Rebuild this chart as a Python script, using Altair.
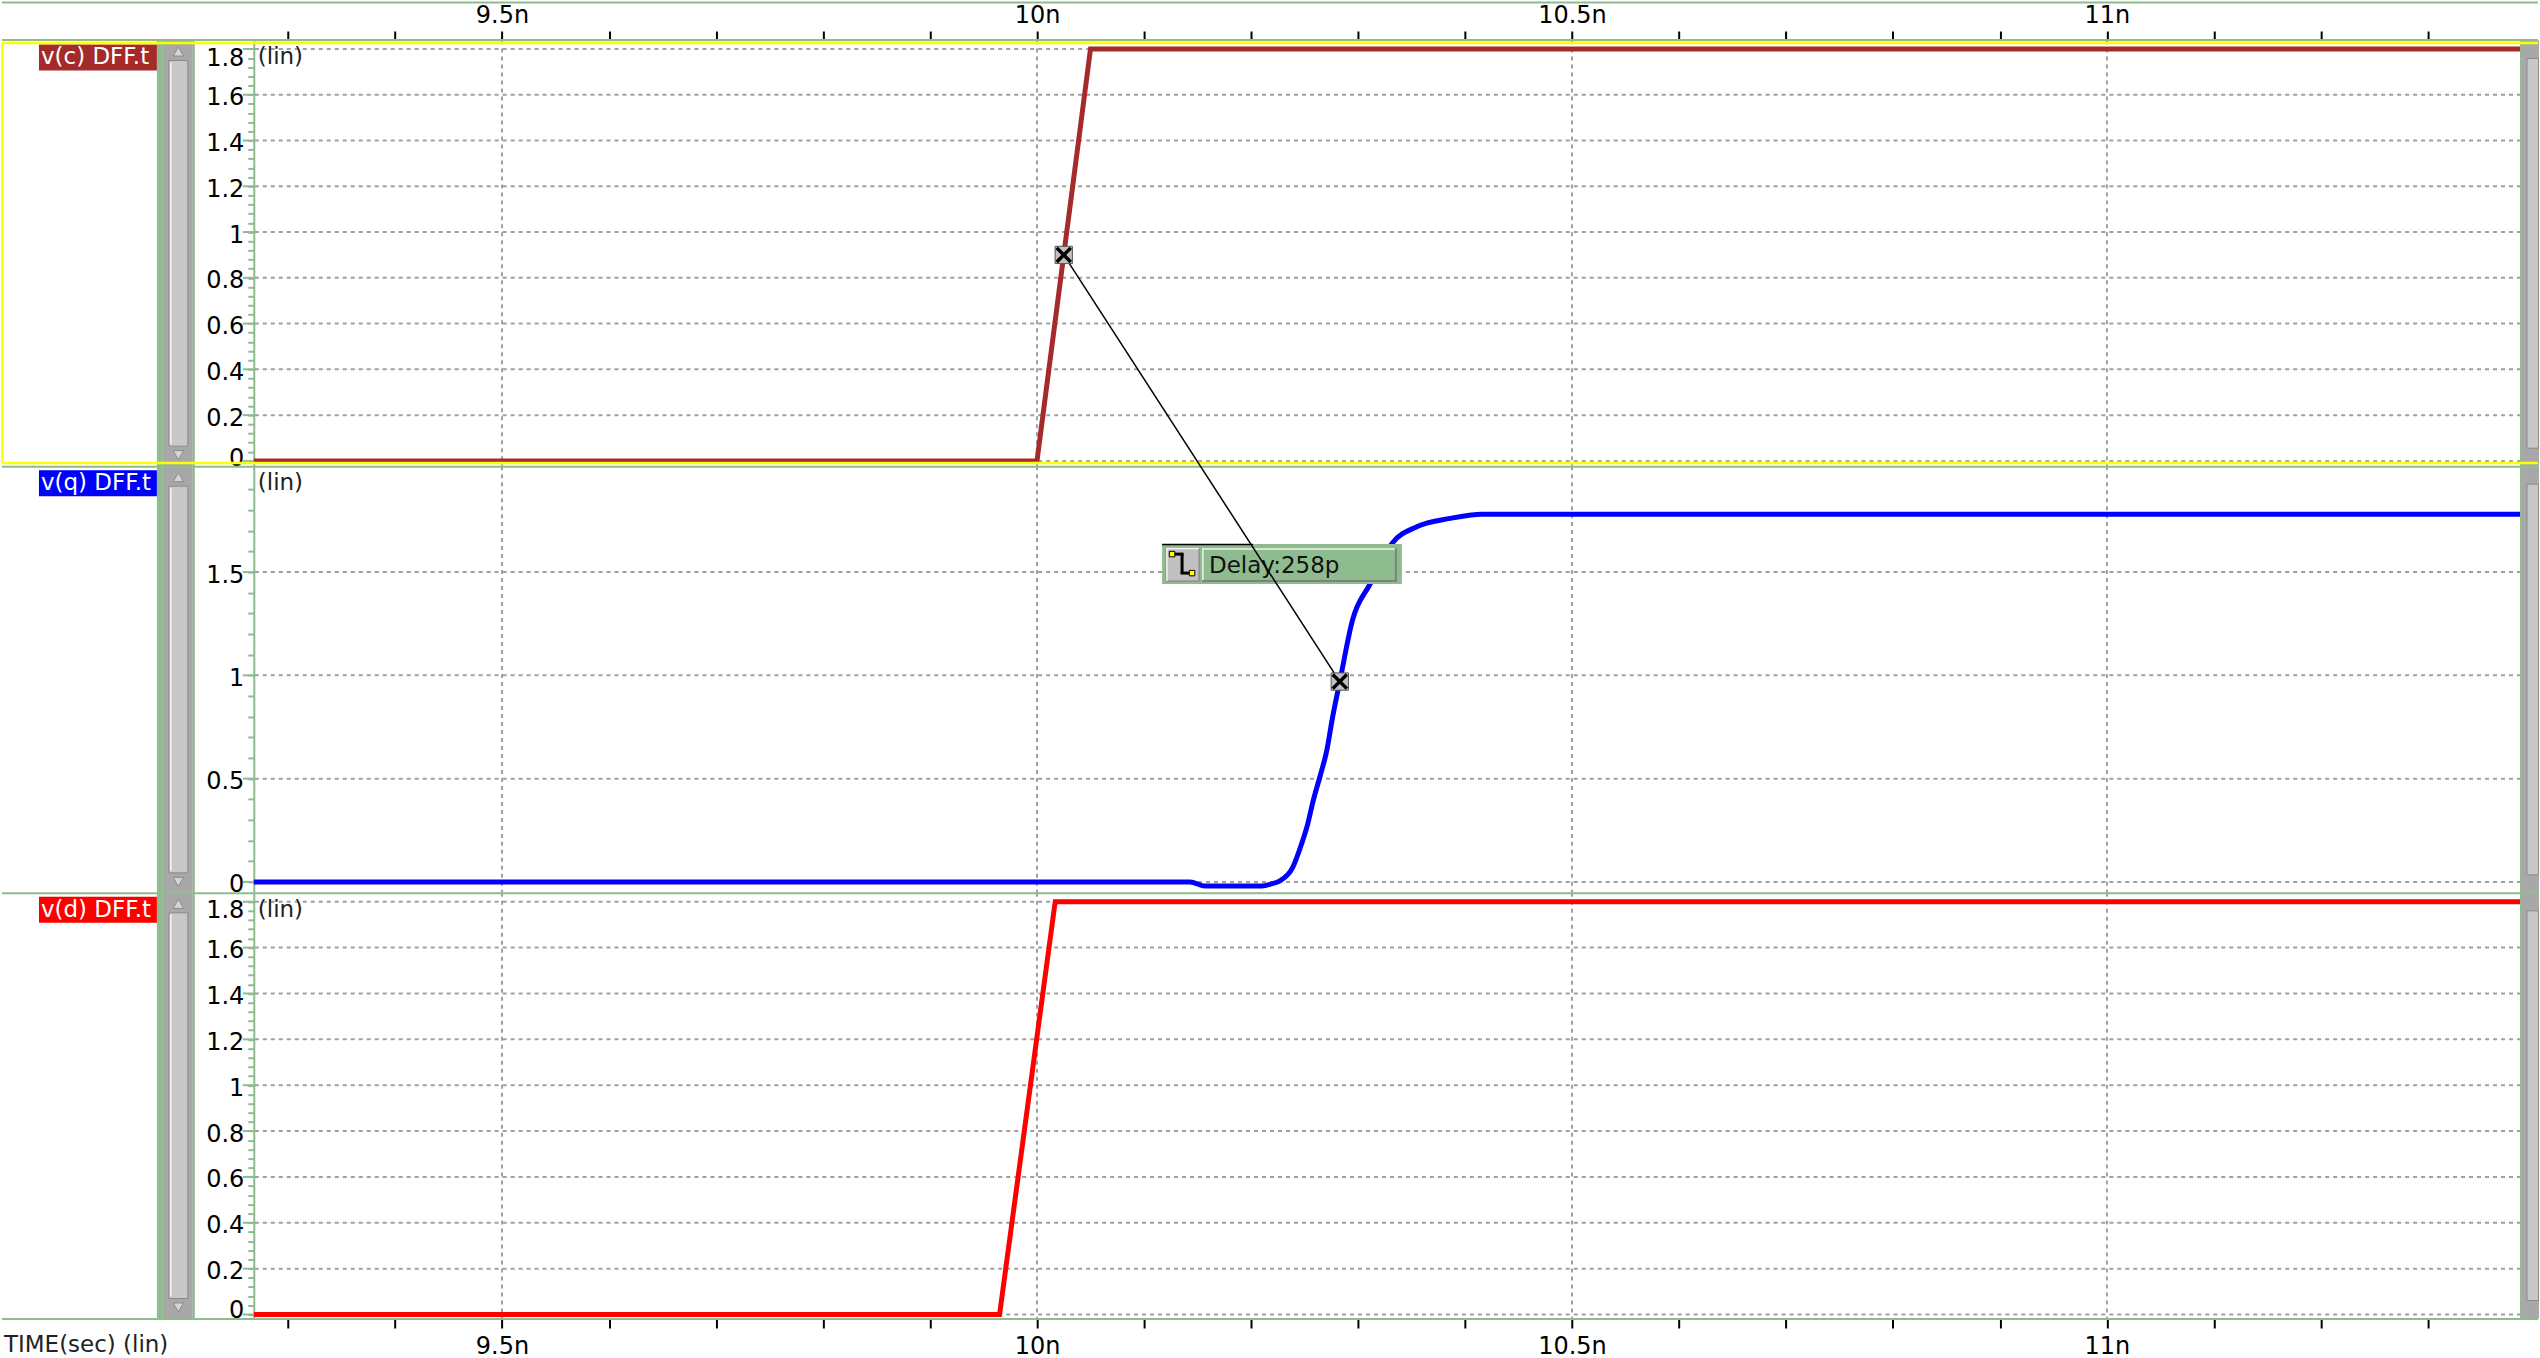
import altair as alt
import pandas as pd

FONT = "DejaVu Sans"
GREEN = "#8FBC8F"
GRID = "#A0A0A0"
DARK = "#A8A8A8"
LIGHT = "#C8C8C8"
YELLOW = "#FFFF00"

# ---------------- data ----------------
T_DOMAIN = [9.268, 11.387]            # ns
T_TICKS = [9.3, 9.4, 9.5, 9.6, 9.7, 9.8, 9.9, 10.0, 10.1, 10.2, 10.3,
           10.4, 10.5, 10.6, 10.7, 10.8, 10.9, 11.0, 11.1, 11.2, 11.3]
T_GRID = [9.5, 10.0, 10.5, 11.0]

VC_T = [9.2, 10.0, 10.05, 11.4]
VC_V = [0.0, 0.0, 1.8, 1.8]

VQ_T = [9.2, 10.143, 10.157, 10.210, 10.219, 10.227, 10.239, 10.247, 10.253,
        10.258, 10.265, 10.271, 10.276, 10.283, 10.295, 10.311, 10.332,
        10.355, 10.386, 10.416, 11.4]
VQ_V = [0.0, 0.0, -0.02, -0.02, -0.01, 0.005, 0.07, 0.18, 0.28,
        0.39, 0.52, 0.64, 0.79, 0.97, 1.27, 1.44, 1.64,
        1.72, 1.76, 1.78, 1.78]

VD_T = [9.2, 9.965, 10.017, 11.4]
VD_V = [0.0, 0.0, 1.8, 1.8]

Y_LAB_CD = [0.0, 0.2, 0.4, 0.6, 0.8, 1.0, 1.2, 1.4, 1.6, 1.8]
Y_LAB_Q = [0.0, 0.5, 1.0, 1.5]
Y_MINOR_CD = [round(0.04 * k, 2) for k in range(46)]
Y_MINOR_Q = [round(0.1 * k, 1) for k in range(20)]

DELAY_T = [10.025, 10.283]   # measurement points (v(c) 50%, v(q))
DELAY_V = [0.9, 0.97]
DELAY_TEXT = "Delay:258p"

SIGNALS = ["v(c) DFF.t", "v(q) DFF.t", "v(d) DFF.t"]
COLORS = ["#A52A2A", "#0000FF", "#FF0000"]

# ---------------- layout ----------------
PLOT_L = 253
PLOT_W = 2269
CANVAS_W = 2540
CANVAS_H = 1358

PANELS = [
    dict(top=39, h=426, dom=[-0.023, 1.837], labels=Y_LAB_CD, minor=Y_MINOR_CD, step=5,
         t=VC_T, v=VC_V, interp="linear", off_top=10, off_bot=-2),
    dict(top=465, h=427, dom=[-0.053, 2.013], labels=Y_LAB_Q, minor=Y_MINOR_Q, step=2,
         t=VQ_T, v=VQ_V, interp="monotone", off_top=3, off_bot=3),
    dict(top=892, h=426, dom=[-0.0174, 1.8388], labels=Y_LAB_CD, minor=Y_MINOR_CD, step=5,
         t=VD_T, v=VD_V, interp="linear", off_top=9, off_bot=-4),
]

ONE = pd.DataFrame({"k": [0]})


def canvas_y(p, v):
    P = PANELS[p]
    d0, d1 = P["dom"]
    return P["top"] + (d1 - v) / (d1 - d0) * P["h"]


def value_at(p, y):
    P = PANELS[p]
    d0, d1 = P["dom"]
    return d1 - (y - P["top"]) / P["h"] * (d1 - d0)


def rect(p, x0, x1, y0, y1, fill, stroke=None, sw=1, opacity=1):
    top = PANELS[p]["top"]
    kw = dict(fill=fill, strokeWidth=0, opacity=opacity)
    if stroke:
        kw.update(stroke=stroke, strokeWidth=sw)
    return alt.Chart(ONE).mark_rect(**kw).encode(
        x=alt.value(x0 - PLOT_L), x2=alt.value(x1 - PLOT_L),
        y=alt.value(y0 - top), y2=alt.value(y1 - top))


def hline(p, x0, x1, y, color, w):
    top = PANELS[p]["top"]
    return alt.Chart(ONE).mark_rule(color=color, strokeWidth=w).encode(
        x=alt.value(x0 - PLOT_L), x2=alt.value(x1 - PLOT_L), y=alt.value(y - top))


def vline(p, x, y0, y1, color, w):
    top = PANELS[p]["top"]
    return alt.Chart(ONE).mark_rule(color=color, strokeWidth=w).encode(
        x=alt.value(x - PLOT_L), y=alt.value(y0 - top), y2=alt.value(y1 - top))


def text(p, x, y, s, color, size=23, align="left"):
    top = PANELS[p]["top"]
    return alt.Chart(ONE).mark_text(text=s, font=FONT, fontSize=size, color=color,
                                    align=align, baseline="middle").encode(
        x=alt.value(x - PLOT_L), y=alt.value(y - top))


def sym(p, x, y, shape, size, fill, stroke):
    top = PANELS[p]["top"]
    return alt.Chart(ONE).mark_point(shape=shape, size=size, filled=True, fill=fill,
                                     stroke=stroke, strokeWidth=1, opacity=1).encode(
        x=alt.value(x - PLOT_L), y=alt.value(y - top))


def x_axis(orient, pad):
    return alt.Axis(orient=orient, values=T_TICKS,
                    labelExpr="abs(datum.value*2 - round(datum.value*2)) < 0.001 ? format(datum.value, '~g') + 'n' : ''",
                    tickSize=9.5, tickWidth=2, tickColor="black", domain=False, grid=False,
                    labelFont=FONT, labelFontSize=24, labelColor="black", labelPadding=pad,
                    labelOverlap=False, labelFlush=False, title=None)


def build_panel(i):
    P = PANELS[i]
    top, h = P["top"], P["h"]
    bot = top + h
    if i == 0:
        xax = x_axis("top", 4)
    elif i == 2:
        xax = x_axis("bottom", 7)
    else:
        xax = None
    X = alt.X("t:Q", title=None, scale=alt.Scale(domain=T_DOMAIN, nice=False, zero=False), axis=xax)
    st = P["step"]
    top_lab = max(P["labels"])
    lab_off = {"condition": [{"test": f"datum.value > {top_lab - 0.001}", "value": P["off_top"]},
                             {"test": "datum.value < 0.001", "value": P["off_bot"]}],
               "value": 3}
    yax = alt.Axis(values=P["minor"],
                   labelExpr=f"abs(datum.value*{st} - round(datum.value*{st})) < 0.001 ? format(datum.value, '~g') : ''",
                   tickSize=6, tickWidth=2, tickColor=GREEN, domainColor=GREEN, domainWidth=2,
                   labelFont=FONT, labelFontSize=24, labelColor="black", labelPadding=4,
                   labelOffset=lab_off, labelFlush=False, labelOverlap=False, grid=False, title=None)
    Y = alt.Y("v:Q", title=None, scale=alt.Scale(domain=P["dom"], nice=False, zero=False), axis=yax)

    layers = []
    if i == 0:
        # invisible frame that fixes the overall canvas extent
        layers.append(rect(0, 0, CANVAS_W, 0, CANVAS_H, "white", opacity=0))

    hgrid = alt.Chart(pd.DataFrame({"v": P["labels"]})).mark_rule(
        color=GRID, strokeWidth=2, strokeDash=[4, 4]).encode(y=Y)
    vgrid = alt.Chart(pd.DataFrame({"t": T_GRID})).mark_rule(
        color=GRID, strokeWidth=2, strokeDash=[4, 4]).encode(x=X)
    majt = alt.Chart(pd.DataFrame({"v": P["labels"]})).mark_rule(
        color=GREEN, strokeWidth=2).encode(y=Y, x=alt.value(-11), x2=alt.value(0))
    wave = alt.Chart(pd.DataFrame({"t": P["t"], "v": P["v"]})).mark_line(
        color=COLORS[i], strokeWidth=5, clip=True, interpolate=P["interp"],
        strokeJoin="miter").encode(x=X, y=Y)
    layers += [hgrid, vgrid, majt, wave]

    # left chrome
    layers += [
        rect(i, 156, 162, top, bot, GREEN),
        rect(i, 162, 192, top, bot, DARK),
        rect(i, 192, 194, top, bot, GREEN),
        rect(i, 168, 187, top + 20, bot - 20, LIGHT, "#8A8A8A", 1),
        vline(i, 170, top + 22, bot - 22, "#F4F4F4", 1.5),
        sym(i, 177.5, top + 11, "triangle-up", 110, "#D4D4D4", "#8A8A8A"),
        sym(i, 177.5, bot - 11, "triangle-down", 110, "#D4D4D4", "#8A8A8A"),
        # right chrome
        rect(i, 2522, 2540, top, bot, DARK),
        rect(i, 2521, 2523, top, bot, GREEN),
        rect(i, 2528, 2539.5, top + 18, bot - 18, LIGHT, "#8A8A8A", 1),
        # signal label
        rect(i, 38, 156, top + 4, top + 30, COLORS[i]),
        text(i, 40, top + 17, SIGNALS[i], "white"),
        text(i, 257, top + 17, "(lin)", "#222222"),
    ]

    if i == 0:
        layers += [
            hline(0, 1, 2539, 1, GREEN, 2),
            hline(0, 1, 2539, 38.5, GREEN, 2),
            hline(0, 1, 2539, 41.5, YELLOW, 2.5),
            hline(0, 1, 2539, 461.8, YELLOW, 2.5),
            vline(0, 1.3, 41.5, 461.8, YELLOW, 2.5),
        ]
    if i == 1:
        layers.append(hline(1, 1, 2539, 465.5, GREEN, 2))
        # delay annotation box
        layers += [
            rect(1, 1162, 1402, 543, 583, GREEN),
            hline(1, 1162, 1253, 543.5, "black", 1.5),
            rect(1, 1166, 1199, 547, 580, "#C0C0C0", "#808080", 1),
            hline(1, 1166, 1199, 547.5, "#F4F4F4", 1.5),
            vline(1, 1166.8, 547, 580, "#F4F4F4", 1.5),
            hline(1, 1171, 1183.5, 553, "black", 3),
            vline(1, 1182, 553, 572, "black", 3),
            hline(1, 1180.5, 1193, 572, "black", 3),
            sym(1, 1172, 553, "square", 30, YELLOW, "black"),
            sym(1, 1192, 572, "square", 30, YELLOW, "black"),
            rect(1, 1202, 1397, 547, 581, GREEN),
            hline(1, 1202, 1397, 547.8, "#EEF4EE", 1.5),
            vline(1, 1202.8, 547, 581, "#EEF4EE", 1.5),
            hline(1, 1202, 1397, 580, "#808080", 2),
            vline(1, 1396, 547, 581, "#808080", 2),
            text(1, 1209, 565, DELAY_TEXT, "#111111"),
        ]
        # connector between the two measurement points (top point mapped into this panel)
        v_start = value_at(1, canvas_y(0, DELAY_V[0]))
        conn = pd.DataFrame({"t": DELAY_T, "v": [v_start, DELAY_V[1]]})
        layers.append(alt.Chart(conn).mark_line(color="black", strokeWidth=1.5, clip=False)
                      .encode(x=X, y=Y))
        layers.append(alt.Chart(conn).mark_point(shape="square", size=300, filled=True,
                                                 fill="#C0C0C0", stroke="#555555", strokeWidth=1,
                                                 opacity=1, clip=False).encode(x=X, y=Y))
        layers.append(alt.Chart(conn).mark_point(shape="M-1,-1L1,1M-1,1L1,-1", size=200,
                                                 filled=False, stroke="black", strokeWidth=3.5,
                                                 opacity=1, clip=False).encode(x=X, y=Y))
    if i == 2:
        layers += [
            hline(2, 1, 2539, 892.5, GREEN, 2),
            hline(2, 1, 2539, 1318.5, GREEN, 2),
            text(2, 3, 1345, "TIME(sec) (lin)", "#222222"),
        ]

    return alt.layer(*layers).properties(width=PLOT_W, height=h)


chart = alt.vconcat(build_panel(0), build_panel(1), build_panel(2), spacing=0, bounds="flush") \
    .properties(padding=0, autosize=alt.AutoSizeParams(type="pad")) \
    .configure_view(strokeWidth=0) \
    .configure(background="white")

chart.save("out.html", embed_options={"renderer": "svg", "actions": False})
